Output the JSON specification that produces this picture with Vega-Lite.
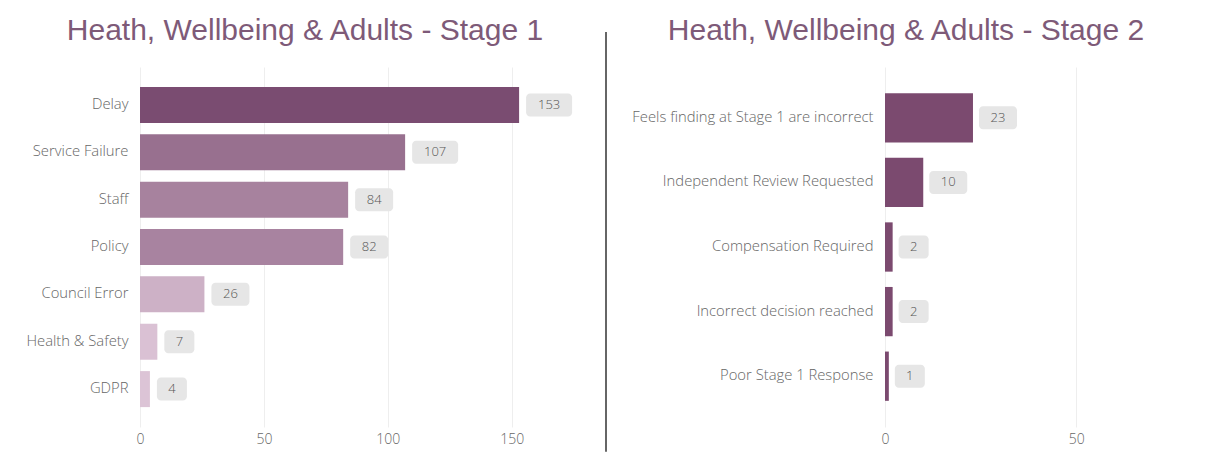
{
  "$schema": "https://vega.github.io/schema/vega-lite/v6.json",
  "background": "white",
  "padding": {"left": 5, "top": 16, "right": 5, "bottom": 5},
  "spacing": 19,
  "config": {
    "font": "Open Sans",
    "view": {"stroke": null},
    "axis": {"domain": false, "ticks": false, "labelColor": "#666666", "labelFont": "Open Sans", "labelFontWeight": 300, "labelFontSize": 14.8, "labelLimit": 300, "title": null},
    "title": {"font": "Liberation Sans", "fontSize": 30, "color": "#7E5A78", "fontWeight": "normal", "anchor": "middle", "baseline": "alphabetic"}
  },
  "hconcat": [
    {
      "title": {"text": "Heath, Wellbeing & Adults - Stage 1", "dx": -58, "offset": 21},
      "width": 446,
      "height": 360,
      "data": {"values": [
        {"reason": "Delay", "n": 153},
        {"reason": "Service Failure", "n": 107},
        {"reason": "Staff", "n": 84},
        {"reason": "Policy", "n": 82},
        {"reason": "Council Error", "n": 26},
        {"reason": "Health & Safety", "n": 7},
        {"reason": "GDPR", "n": 4}
      ]},
      "encoding": {
        "y": {"field": "reason", "type": "nominal", "sort": null,
              "scale": {"paddingInner": 0.24, "paddingOuter": 0.42},
              "axis": {"labelPadding": 12, "minExtent": 135, "maxExtent": 135, "grid": false}},
        "x": {"field": "n", "type": "quantitative",
              "scale": {"domain": [0, 180], "nice": false},
              "axis": {"values": [0, 50, 100, 150], "grid": true, "gridColor": "#EEEEEE", "labelPadding": 5, "labelFontSize": 14, "labelFlush": false}}
      },
      "layer": [
        {
          "mark": {"type": "bar"},
          "encoding": {
            "color": {"field": "n", "type": "quantitative", "legend": null,
                      "scale": {"domain": [4, 153], "range": ["#DCC4D6", "#7A4C71"]}}
          }
        },
        {
          "mark": {"type": "bar", "color": "#E6E6E6", "height": 23, "cornerRadius": 4, "xOffset": 7,
                   "x2Offset": {"expr": "7 + 22 + 8*length(toString(datum.n))"}},
          "encoding": {"x2": {"field": "n"}}
        },
        {
          "mark": {"type": "text", "align": "center", "baseline": "middle", "fontSize": 13, "fontWeight": 300, "color": "#555555",
                   "dx": {"expr": "7 + (22 + 8*length(toString(datum.n)))/2"}},
          "encoding": {"text": {"field": "n", "type": "quantitative"}}
        }
      ]
    },
    {
      "width": 2,
      "height": 360,
      "data": {"values": [{}]},
      "mark": {"type": "rule", "color": "#666666", "strokeWidth": 2},
      "encoding": {
        "x": {"value": 1},
        "y": {"datum": 1.097, "type": "quantitative", "scale": {"domain": [0, 1], "nice": false, "zero": false}, "axis": null},
        "y2": {"datum": -0.069}
      }
    },
    {
      "title": {"text": "Heath, Wellbeing & Adults - Stage 2", "dx": -132, "offset": 21},
      "width": 306,
      "height": 360,
      "data": {"values": [
        {"reason": "Feels finding at Stage 1 are incorrect", "n": 23},
        {"reason": "Independent Review Requested", "n": 10},
        {"reason": "Compensation Required", "n": 2},
        {"reason": "Incorrect decision reached", "n": 2},
        {"reason": "Poor Stage 1 Response", "n": 1}
      ]},
      "encoding": {
        "y": {"field": "reason", "type": "nominal", "sort": null,
              "scale": {"paddingInner": 0.237, "paddingOuter": 0.405},
              "axis": {"labelPadding": 12, "minExtent": 259, "maxExtent": 259, "grid": false}},
        "x": {"field": "n", "type": "quantitative",
              "scale": {"domain": [0, 80], "nice": false},
              "axis": {"values": [0, 50], "grid": true, "gridColor": "#EEEEEE", "labelPadding": 5, "labelFontSize": 14, "labelFlush": false}}
      },
      "layer": [
        {"mark": {"type": "bar", "color": "#7B4A6F"}},
        {
          "mark": {"type": "bar", "color": "#E6E6E6", "height": 23, "cornerRadius": 4, "xOffset": 6,
                   "x2Offset": {"expr": "6 + 22 + 8*length(toString(datum.n))"}},
          "encoding": {"x2": {"field": "n"}}
        },
        {
          "mark": {"type": "text", "align": "center", "baseline": "middle", "fontSize": 13, "fontWeight": 300, "color": "#555555",
                   "dx": {"expr": "6 + (22 + 8*length(toString(datum.n)))/2"}},
          "encoding": {"text": {"field": "n", "type": "quantitative"}}
        }
      ]
    }
  ]
}
